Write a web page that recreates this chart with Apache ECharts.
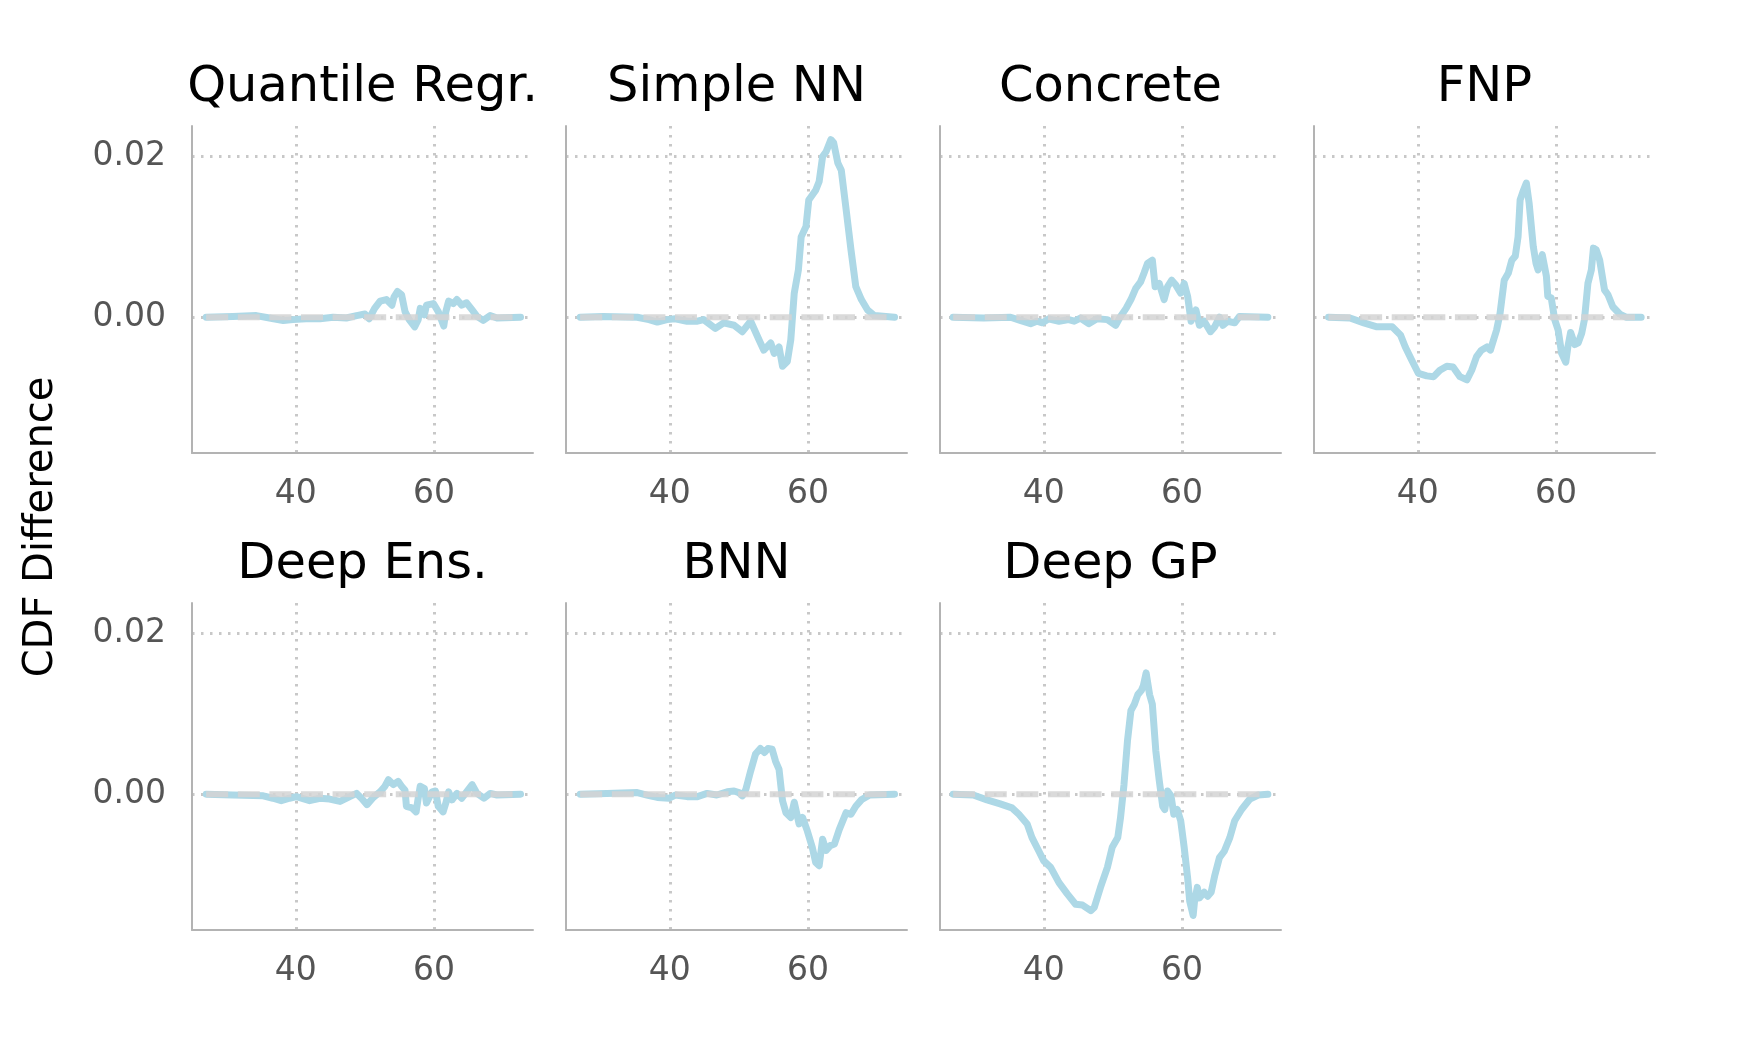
<!doctype html>
<html lang="en">
<head>
<meta charset="UTF-8">
<title>CDF Difference</title>
<script src="https://cdn.jsdelivr.net/npm/echarts@6/dist/echarts.min.js"></script>
<style>
    html, body {margin: 0; padding: 0; background: #fff;}
    #main {width: 1742px; height: 1045px;}
</style>
</head>
<body>
<div id="main"></div>
<script>
    // panel titles, in subplot order
    var titles = ['Quantile Regr.', 'Simple NN', 'Concrete', 'FNP', 'Deep Ens.', 'BNN', 'Deep GP'];
    var xTicks = [40, 60];
    var yTicks = [0, 0.02];
    var yLabel = 'CDF Difference';

    // [age, cdf difference]
    var quantileData = [[27.05,0],[30.9,0.0001],[34.3,0.0002],[36.2,-0.0001],[38.2,-0.0004],[39.6,-0.0003],[41.5,-0.0002],[43.5,-0.0002],[45.4,0],[47.3,-0.0001],[48.8,0.0002],[50.0,0.0004],[50.6,-0.0002],[51.4,0.0011],[52.2,0.002],[53.1,0.0022],[53.9,0.0015],[54.2,0.0025],[54.7,0.0032],[55.3,0.0028],[55.8,0.0007],[56.4,-0.0003],[57.2,-0.0012],[57.7,-0.0003],[58.0,0.0011],[58.6,0.0003],[58.9,0.0015],[59.9,0.0017],[60.6,0.0007],[61.4,-0.0011],[61.7,0.0007],[62.1,0.002],[62.8,0.0017],[63.3,0.0022],[64.0,0.0015],[64.7,0.0018],[65.5,0.0009],[66.2,0.0001],[67.1,-0.0004],[68.1,0.0002],[69.1,-0.0001],[72.5,0]];
    var simpleNNData = [[27.05,0],[30.4,0.0001],[35.3,0],[37.0,-0.0003],[38.2,-0.0006],[39.6,-0.0003],[40.8,-0.0002],[42.5,-0.0005],[44.0,-0.0005],[44.9,-0.0003],[46.6,-0.0014],[47.8,-0.0007],[49.3,-0.001],[50.5,-0.0018],[51.7,-0.0005],[52.9,-0.0028],[53.6,-0.0041],[54.6,-0.0032],[55.1,-0.0045],[55.8,-0.0037],[56.3,-0.0061],[57.0,-0.0055],[57.5,-0.0028],[58.0,0.003],[58.6,0.0059],[59.0,0.010],[59.7,0.0113],[60.1,0.0146],[61.1,0.0158],[61.6,0.0169],[62.1,0.020],[62.6,0.0206],[63.3,0.0221],[63.7,0.0217],[64.3,0.0192],[64.8,0.0183],[65.5,0.0134],[66.2,0.0084],[66.9,0.0038],[67.7,0.0022],[68.6,0.0009],[69.6,0.0002],[72.5,0]];
    var concreteData = [[26.9,0],[31.3,-0.0001],[35.2,0],[36.6,-0.0004],[38.1,-0.0008],[39.0,-0.0005],[39.8,-0.0007],[40.7,-0.0002],[42.2,-0.0005],[43.6,-0.0003],[44.4,-0.0005],[45.3,-0.0001],[46.5,-0.0008],[47.7,-0.0002],[49.2,-0.0003],[50.4,-0.001],[51.1,0.0001],[51.9,0.0011],[52.6,0.0022],[53.3,0.0036],[54.0,0.0044],[54.5,0.0055],[55.0,0.0067],[55.7,0.0071],[56.1,0.0038],[56.7,0.0042],[57.4,0.0022],[57.9,0.0038],[58.5,0.0046],[59.1,0.004],[59.8,0.003],[60.3,0.0042],[60.8,0.0026],[61.3,-0.0005],[62.0,0.0009],[62.5,-0.001],[63.2,-0.0005],[64.1,-0.0018],[64.7,-0.0012],[65.4,0],[65.9,-0.001],[66.6,-0.0005],[67.6,-0.0007],[68.3,0.0001],[72.4,0]];
    var fnpData = [[27.1,0],[30.2,-0.0001],[32.2,-0.0007],[34.1,-0.0012],[35.5,-0.0012],[36.3,-0.0012],[37.5,-0.0022],[38.2,-0.0037],[39.1,-0.0053],[40.1,-0.007],[41.3,-0.0073],[42.3,-0.0074],[43.2,-0.0066],[44.2,-0.0061],[45.1,-0.0062],[46.1,-0.0074],[47.1,-0.0078],[47.8,-0.0066],[48.5,-0.0049],[49.2,-0.0041],[50.0,-0.0037],[50.5,-0.0041],[51.4,-0.0016],[51.9,0.0005],[52.5,0.0046],[53.1,0.0055],[53.6,0.0071],[54.1,0.0076],[54.5,0.010],[54.8,0.0146],[55.2,0.0156],[55.7,0.0167],[56.1,0.0142],[56.7,0.0088],[57.1,0.0067],[57.4,0.0059],[58.0,0.0078],[58.6,0.0051],[58.8,0.0026],[59.3,0.0024],[59.8,-0.0003],[60.3,-0.0016],[60.8,-0.0045],[61.4,-0.0056],[61.7,-0.0037],[62.1,-0.0019],[62.7,-0.0034],[63.2,-0.0032],[63.7,-0.002],[64.1,-0.0003],[64.6,0.0042],[65.1,0.0059],[65.4,0.0086],[65.8,0.0084],[66.3,0.0071],[67.0,0.0034],[67.5,0.0028],[68.2,0.0013],[69.2,0.0004],[70.1,0],[72.3,0]];
    var deepEnsData = [[27.05,0],[30.9,-0.0001],[35.3,-0.0002],[36.7,-0.0005],[37.9,-0.0008],[39.1,-0.0005],[40.1,-0.0003],[42.0,-0.0008],[43.5,-0.0005],[44.9,-0.0006],[46.4,-0.0009],[47.8,-0.0003],[48.8,0.0001],[49.5,-0.0005],[50.3,-0.0013],[51.2,-0.0004],[52.2,0.0003],[52.9,0.001],[53.4,0.0018],[54.1,0.0012],[54.8,0.0016],[55.3,0.001],[55.8,0.0005],[56.0,-0.0015],[56.8,-0.0017],[57.4,-0.0022],[57.7,-0.0005],[58.0,0.001],[58.6,0.0007],[58.9,-0.0011],[59.7,0.0003],[60.2,0.0004],[60.6,-0.0015],[61.3,-0.0022],[61.7,-0.0011],[62.1,0.0003],[62.6,-0.0007],[63.3,0.0001],[64.0,-0.0005],[64.7,0.0003],[65.5,0.0012],[66.2,0.0001],[67.2,-0.0005],[68.1,0.0001],[69.1,-0.0001],[72.5,0]];
    var bnnData = [[27.05,0],[30.9,0.0001],[35.3,0.0002],[36.7,-0.0001],[38.2,-0.0004],[39.9,-0.0005],[40.8,-0.0001],[42.5,-0.0003],[44.0,-0.0003],[45.4,0.0001],[46.8,-0.0001],[48.3,0.0003],[49.3,0.0004],[50.0,0.0002],[50.5,-0.0002],[51.0,0.0006],[51.7,0.0029],[52.4,0.005],[53.1,0.0057],[53.7,0.0052],[54.2,0.0057],[54.8,0.0056],[55.3,0.0041],[55.8,0.0031],[56.3,-0.0008],[56.8,-0.0023],[57.5,-0.0029],[58.0,-0.001],[58.7,-0.0037],[59.2,-0.0029],[59.9,-0.0046],[60.6,-0.0066],[61.1,-0.0085],[61.6,-0.0089],[62.1,-0.0056],[62.6,-0.007],[63.2,-0.0064],[63.8,-0.0062],[64.5,-0.0044],[65.5,-0.0023],[66.2,-0.0025],[66.9,-0.0015],[67.7,-0.0007],[68.9,-0.0001],[72.5,0]];
    var deepGPData = [[26.9,0],[29.8,-0.0001],[31.8,-0.0007],[33.7,-0.0012],[35.4,-0.0017],[36.4,-0.0025],[37.6,-0.0037],[38.3,-0.0054],[39.3,-0.0071],[40.0,-0.0083],[41.0,-0.0091],[42.2,-0.011],[43.4,-0.0124],[44.6,-0.0137],[45.6,-0.0138],[46.8,-0.0145],[47.3,-0.0141],[48.2,-0.0116],[49.2,-0.0091],[49.9,-0.0066],[50.7,-0.0054],[51.1,-0.0029],[51.6,0.0012],[52.1,0.0066],[52.6,0.0104],[53.1,0.0112],[53.6,0.0124],[54.1,0.0129],[54.4,0.0135],[54.8,0.0151],[55.3,0.0124],[55.7,0.0112],[56.2,0.0054],[56.7,0.0017],[57.2,-0.0015],[57.5,-0.0019],[57.9,0.0004],[58.4,-0.0002],[58.8,-0.0025],[59.3,-0.0019],[59.8,-0.0033],[60.3,-0.0066],[60.8,-0.0104],[61.1,-0.0133],[61.6,-0.0151],[61.8,-0.0133],[62.2,-0.0116],[62.5,-0.0129],[63.2,-0.0122],[63.7,-0.0127],[64.2,-0.0122],[64.7,-0.0102],[65.4,-0.0079],[66.1,-0.0071],[66.9,-0.0054],[67.6,-0.0033],[68.6,-0.0019],[69.8,-0.0006],[71.0,-0.0001],[72.4,0]];

    var panelData = [quantileData, simpleNNData, concreteData, fnpData, deepEnsData, bnnData, deepGPData];

    var chart = echarts.init(document.getElementById('main'));
    var FONT = 'DejaVu Sans';
    var gridLine = {show: true, lineStyle: {color: '#c8c8c8', width: 3, type: [2.5, 6.5]}};
    var grids = [], xAxes = [], yAxes = [], series = [], graphics = [];

    panelData.forEach(function (data, i) {
        var row = Math.floor(i / 4), col = i % 4;
        var left = 192 + col * 374, top = 126 + row * 477;
        grids.push({left: left, top: top, width: 341, height: 327});
        xAxes.push({
            type: 'value', gridIndex: i, min: 25, max: 74.3,
            axisLine: {show: true, onZero: false, lineStyle: {color: '#b3b3b3', width: 2}},
            axisTick: {show: false, customValues: xTicks},
            axisLabel: {customValues: xTicks, color: '#555555', fontFamily: FONT, fontSize: 33, margin: 25},
            splitLine: gridLine
        });
        yAxes.push({
            type: 'value', gridIndex: i, min: -0.0169, max: 0.0238,
            axisLine: {show: true, onZero: false, lineStyle: {color: '#b3b3b3', width: 2}},
            axisTick: {show: false, customValues: yTicks},
            axisLabel: {show: col === 0, customValues: yTicks, color: '#555555', fontFamily: FONT, fontSize: 33, margin: 26,
                formatter: function (v) { return v.toFixed(2); }},
            splitLine: gridLine
        });
        series.push({
            type: 'line', xAxisIndex: i, yAxisIndex: i, data: data,
            showSymbol: false, silent: true, z: 2,
            lineStyle: {color: '#add8e6', width: 7, join: 'round', cap: 'round'}
        });
        // zero reference, dashed, over the same x range
        series.push({
            type: 'line', xAxisIndex: i, yAxisIndex: i,
            data: [[data[0][0], 0], [data[data.length - 1][0], 0]],
            showSymbol: false, silent: true, z: 3,
            lineStyle: {color: 'rgba(211,211,211,0.85)', width: 6, type: [22, 9.6], cap: 'butt'}
        });
        graphics.push({
            type: 'text', x: left + 170.5, y: 88 + row * 477,
            style: {text: titles[i], fontFamily: FONT, fontSize: 49.5, fill: '#000', align: 'center', verticalAlign: 'middle'}
        });
    });

    graphics.push({
        type: 'text', x: 42, y: 527, rotation: Math.PI / 2,
        style: {text: yLabel, fontFamily: FONT, fontSize: 40, fill: '#000', align: 'center', verticalAlign: 'middle'}
    });

    chart.setOption({
        animation: false,
        grid: grids,
        xAxis: xAxes,
        yAxis: yAxes,
        series: series,
        graphic: graphics
    });
</script>
</body>
</html>
